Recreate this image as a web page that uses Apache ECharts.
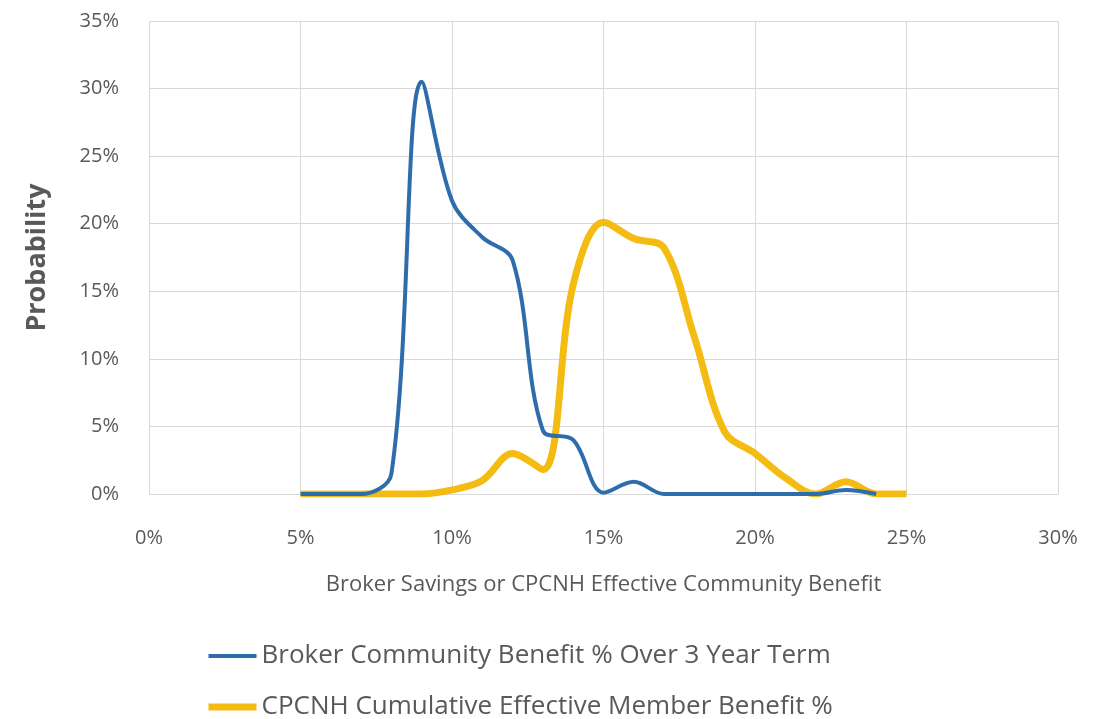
<!DOCTYPE html>
<html>
<head>
<meta charset="utf-8">
<script src="https://cdn.jsdelivr.net/npm/echarts@6/dist/echarts.min.js"></script>
<style>
  html, body { margin: 0; padding: 0; background: #fff; }
  #chart { width: 1109px; height: 719px; }
</style>
</head>
<body>
<div id="chart"></div>
<script>
var chart = echarts.init(document.getElementById('chart'));

// x positions (%), one point per whole percent
var xValues = [5, 6, 7, 8, 9, 10, 11, 12, 13, 14, 15, 16, 17, 18, 19, 20, 21, 22, 23, 24, 25];
// Broker Community Benefit % Over 3 Year Term
var brokerValues = [0, 0, 0, 1.5, 30.5, 21.7, 19.0, 17.3, 4.7, 4.0, 0.1, 0.9, 0, 0, 0, 0, 0, 0, 0.3, 0, null];
// CPCNH Cumulative Effective Member Benefit %
var cpcnhValues = [0, 0, 0, 0, 0, 0.3, 1.0, 3.0, 1.8, 15.5, 20.1, 18.9, 18.2, 11.6, 4.6, 3.0, 1.2, 0, 0.9, 0, 0];

var seriesNames = ['Broker Community Benefit % Over 3 Year Term', 'CPCNH Cumulative Effective Member Benefit %'];
var blue = '#2e6dab';
var yellow = '#f4bc12';

function pairs(vals) {
    var out = [];
    for (var i = 0; i < xValues.length; i++) {
        if (vals[i] !== null) out.push([xValues[i], vals[i]]);
    }
    return out;
}

var textColor = '#595959';
var gridColor = '#d9d9d9';
var fontFam = '"Open Sans", sans-serif';

var option = {
    animation: false,
    grid: {
        left: 149,
        right: 51,
        top: 21,
        bottom: 225
    },
    legend: {
        orient: 'vertical',
        left: 205,
        top: 643,
        height: 120,
        padding: 0,
        itemWidth: 48,
        itemHeight: 14,
        itemGap: 25,
        itemStyle: { opacity: 0 },   // hide the circle, keep the line
        data: [
            { name: seriesNames[0], lineStyle: { color: blue, width: 4 } },
            { name: seriesNames[1], lineStyle: { color: yellow, width: 7 } }
        ],
        textStyle: {
            color: textColor,
            fontSize: 26,
            fontFamily: fontFam
        }
    },
    xAxis: {
        type: 'value',
        min: 0,
        max: 30,
        interval: 5,
        name: 'Broker Savings or CPCNH Effective Community Benefit',
        nameLocation: 'middle',
        nameGap: 80,
        nameTextStyle: {
            color: textColor,
            fontSize: 22,
            fontFamily: fontFam
        },
        axisLine: { show: false },
        axisTick: { show: false },
        axisLabel: {
            formatter: '{value}%',
            color: textColor,
            fontSize: 20,
            fontFamily: fontFam,
            margin: 34
        },
        splitLine: { show: true, lineStyle: { color: gridColor, width: 1 } }
    },
    yAxis: {
        type: 'value',
        min: 0,
        max: 35,
        interval: 5,
        name: 'Probability',
        nameLocation: 'middle',
        nameGap: 98,
        nameTextStyle: {
            color: textColor,
            fontSize: 27,
            fontWeight: 'bold',
            fontFamily: fontFam
        },
        axisLine: { show: false },
        axisTick: { show: false },
        axisLabel: {
            formatter: '{value}%',
            color: textColor,
            fontSize: 20,
            fontFamily: fontFam,
            margin: 30
        },
        splitLine: { show: true, lineStyle: { color: gridColor, width: 1 } }
    },
    series: [
        {
            name: seriesNames[0],
            type: 'line',
            smooth: 0.35,
            symbol: 'none',
            data: pairs(brokerValues),
            lineStyle: { color: blue, width: 4 },
            itemStyle: { color: blue },
            z: 3
        },
        {
            name: seriesNames[1],
            type: 'line',
            smooth: 0.35,
            symbol: 'none',
            data: pairs(cpcnhValues),
            lineStyle: { color: yellow, width: 7 },
            itemStyle: { color: yellow },
            z: 2
        }
    ]
};

chart.setOption(option);
</script>
</body>
</html>
